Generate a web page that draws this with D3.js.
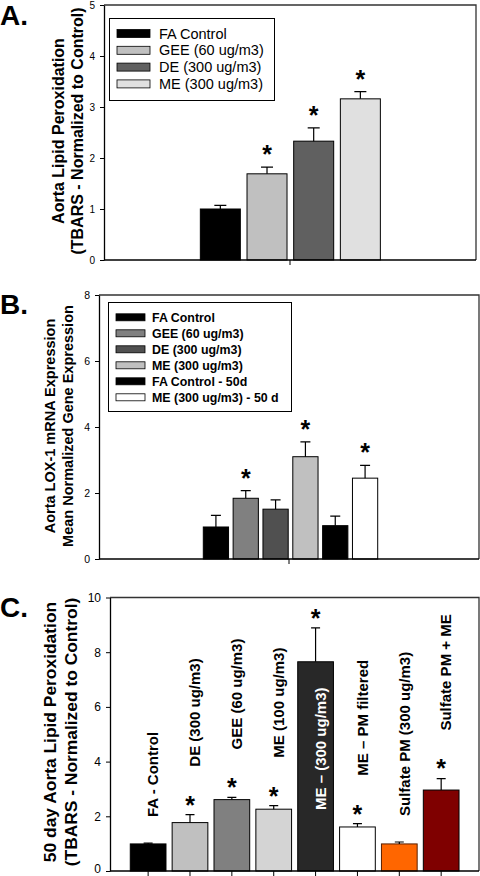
<!DOCTYPE html>
<html>
<head>
<meta charset="utf-8">
<script src="https://cdn.jsdelivr.net/npm/d3@7"></script>
<style>
  html, body { margin: 0; padding: 0; background: #fff; }
  svg { display: block; font-family: "Liberation Sans", Arial, Helvetica, sans-serif; }
</style>
</head>
<body>
<script>
// ---------------- DATA ----------------
// Panel A
const aCategories = ["FA Control", "GEE (60 ug/m3)", "DE (300 ug/m3)", "ME (300 ug/m3)"];
const aValues = [1.00, 1.69, 2.33, 3.16];
const aErrors = [0.07, 0.13, 0.26, 0.14];
const aSignificant = [false, true, true, true];
const aColors = ["#000000", "#c0c0c0", "#606060", "#e0e0e0"];
const aTicks = [0, 1, 2, 3, 4, 5];
const aYLabel = ["Aorta Lipid Peroxidation", "(TBARS - Normalized to Control)"];

// Panel B
const bCategories = ["FA Control", "GEE (60 ug/m3)", "DE (300 ug/m3)", "ME (300 ug/m3)", "FA Control - 50d", "ME (300 ug/m3) - 50 d"];
const bValues = [0.97, 1.84, 1.51, 3.10, 1.01, 2.45];
const bErrors = [0.35, 0.23, 0.28, 0.45, 0.29, 0.39];
const bSignificant = [false, true, false, true, false, true];
const bColors = ["#000000", "#808080", "#505050", "#c0c0c0", "#000000", "#ffffff"];
const bTicks = [0, 2, 4, 6, 8];
const bYLabel = ["Aorta LOX-1 mRNA Expression", "Mean Normalized Gene Expression"];

// Panel C
const cCategories = ["FA - Control", "DE (300 ug/m3)", "GEE (60 ug/m3)", "ME (100 ug/m3)", "ME \u2013 (300 ug/m3)", "ME \u2013 PM filtered", "Sulfate PM (300 ug/m3)", "Sulfate PM + ME"];
const cValues = [0.99, 1.77, 2.61, 2.26, 7.65, 1.61, 0.99, 2.96];
const cErrors = [0.03, 0.29, 0.08, 0.13, 1.24, 0.12, 0.07, 0.42];
const cSignificant = [false, true, true, true, true, true, false, true];
const cColors = ["#000000", "#c0c0c0", "#808080", "#d4d4d4", "#282828", "#ffffff", "#ff6600", "#7f0000"];
const cStrokes = ["#000000", "#000000", "#000000", "#000000", "#000000", "#000000", "#5a2000", "#000000"];
const cTicks = [0, 2, 4, 6, 8, 10];
const cYLabel = ["50 day Aorta Lipid Peroxidation", "(TBARS - Normalized to Control)"];

// ---------------- DRAW ----------------
const svg = d3.select("body").append("svg").attr("width", 480).attr("height", 876);

function panel(o) {
  const g = svg.append("g");
  const y = d3.scaleLinear().domain([0, d3.max(o.ticks)]).range([o.bottom, o.top]);
  const x = d3.scaleBand().domain(o.cats).range(o.barRange)
    .paddingInner(o.pad).paddingOuter(o.pad / 2);
  const rows = o.cats.map((c, i) => ({ c, v: o.values[i], e: o.errors[i], s: o.sig[i], col: o.colors[i], stroke: o.strokes ? o.strokes[i] : "#000", i }));

  // frame top/right
  g.append("path")
    .attr("d", `M${o.left},${o.top}H${o.right}V${o.bottom}`)
    .attr("fill", "none").attr("stroke", "#333").attr("stroke-width", 1.3);

  // bars
  g.selectAll("rect.bar").data(rows).join("rect")
    .attr("x", d => x(d.c)).attr("width", x.bandwidth())
    .attr("y", d => y(d.v)).attr("height", d => y(0) - y(d.v))
    .attr("fill", d => d.col).attr("stroke", d => d.stroke).attr("stroke-width", 1);

  // error bars
  const cap = o.cap;
  g.selectAll("path.err").data(rows).join("path")
    .attr("d", d => {
      const cx = x(d.c) + x.bandwidth() / 2;
      return `M${cx},${y(d.v)}V${y(d.v + d.e)}M${cx - cap / 2},${y(d.v + d.e)}H${cx + cap / 2}`;
    })
    .attr("fill", "none").attr("stroke", "#000").attr("stroke-width", 1.2);

  // stars
  g.selectAll("text.star").data(rows.filter(d => d.s)).join("text")
    .attr("x", d => x(d.c) + x.bandwidth() / 2)
    .attr("y", d => y(d.v + d.e) - o.starGap + 0.555 * 25)
    .attr("text-anchor", "middle").attr("font-size", 25).attr("font-weight", "bold")
    .text("*");

  // y axis
  const ya = g.append("g").attr("transform", `translate(${o.left},0)`)
    .call(d3.axisLeft(y).tickValues(o.ticks).tickSize(4).tickSizeOuter(0).tickPadding(5).tickFormat(d3.format("d")));
  ya.selectAll("text").attr("font-size", o.tickFont).attr("font-family", "Liberation Sans, Arial, sans-serif").attr("fill", "#000");
  ya.selectAll("line").attr("stroke", "#000");
  ya.select(".domain").attr("stroke", "#000").attr("stroke-width", 1.3);
  if (o.lowZeroShift) {
    ya.selectAll(".tick").filter(d => d === 0).select("text").attr("dy", "0.1em");
  }

  // x axis line
  g.append("line").attr("x1", o.left).attr("x2", o.right).attr("y1", o.bottom).attr("y2", o.bottom)
    .attr("stroke", "#000").attr("stroke-width", 1.3);
  const xt = o.tickEach ? rows.map(d => x(d.c) + x.bandwidth() / 2) : [(o.left + o.right) / 2];
  g.selectAll("line.xt").data(xt).join("line")
    .attr("x1", d => d).attr("x2", d => d).attr("y1", o.bottom).attr("y2", o.bottom + 5)
    .attr("stroke", "#000");

  // y label
  o.ylabel.forEach((t, k) => {
    g.append("text")
      .attr("transform", `translate(${o.ylabelX[k]},${o.ylabelY}) rotate(-90)`)
      .attr("text-anchor", "middle").attr("dy", "0.35em")
      .attr("font-size", o.ylabelFont).attr("font-weight", "bold")
      .text(t);
  });

  // panel letter
  g.append("text").attr("x", 0).attr("y", o.letterY)
    .attr("font-size", 28).attr("font-weight", "bold").text(o.letter);

  return { g, x, y, rows };
}

// Panel A
const A = panel({
  cats: aCategories, values: aValues, errors: aErrors, sig: aSignificant, colors: aColors,
  ticks: aTicks, left: 104, right: 476, top: 5, bottom: 260,
  barRange: [197, 383.7], pad: 0.143, cap: 12, starGap: 18, tickFont: 10,
  ylabel: aYLabel, ylabelX: [58, 77], ylabelY: 131, ylabelFont: 16,
  letter: "A.", letterY: 25, tickEach: false
});
// legend A
{
  const lg = A.g.append("g");
  lg.append("rect").attr("x", 109.5).attr("y", 18.5).attr("width", 165).attr("height", 82)
    .attr("fill", "#fff").attr("stroke", "#000").attr("stroke-width", 1);
  aCategories.forEach((c, i) => {
    const cy = 33.5 + i * 16.8;
    lg.append("rect").attr("x", 117).attr("y", cy - 4).attr("width", 33).attr("height", 8)
      .attr("fill", aColors[i]).attr("stroke", "#000").attr("stroke-width", 0.8);
    lg.append("text").attr("x", 159).attr("y", cy + 5).attr("font-size", 14.5).text(c);
  });
}

// Panel B
const B = panel({
  cats: bCategories, values: bValues, errors: bErrors, sig: bSignificant, colors: bColors,
  ticks: bTicks, left: 99, right: 479, top: 295, bottom: 559,
  barRange: [201, 380], pad: 0.154, cap: 10, starGap: 18, tickFont: 10.5,
  ylabel: bYLabel, ylabelX: [50, 68], ylabelY: 426, ylabelFont: 14.5,
  letter: "B.", letterY: 314, tickEach: false
});
{
  const lg = B.g.append("g");
  lg.append("rect").attr("x", 108.5).attr("y", 302.5).attr("width", 183).attr("height", 109)
    .attr("fill", "#fff").attr("stroke", "#000").attr("stroke-width", 1);
  bCategories.forEach((c, i) => {
    const cy = 317.3 + i * 16;
    lg.append("rect").attr("x", 116).attr("y", cy - 3.5).attr("width", 29).attr("height", 7)
      .attr("fill", bColors[i]).attr("stroke", "#000").attr("stroke-width", 0.8);
    lg.append("text").attr("x", 152).attr("y", cy + 4.5).attr("font-size", 12.4)
      .attr("font-weight", "bold").text(c);
  });
}

// Panel C
const C = panel({
  cats: cCategories, values: cValues, errors: cErrors, sig: cSignificant, colors: cColors, strokes: cStrokes,
  ticks: cTicks, left: 110, right: 479, top: 597.5, bottom: 871,
  barRange: [127.2, 462.1], pad: 0.147, cap: 9, starGap: 15, tickFont: 12,
  ylabel: cYLabel, ylabelX: [50, 71], ylabelY: 732, ylabelFont: 17.4,
  letter: "C.", letterY: 617, tickEach: true, lowZeroShift: true
});
// rotated category labels in C
C.g.selectAll("text.cat").data(C.rows).join("text")
  .attr("transform", d => {
    const cx = C.x(d.c) + C.x.bandwidth() / 2 + 5;
    const inside = d.v > 5;
    const top = d.s ? C.y(d.v + d.e) - 15 : C.y(d.v + d.e);
    const by = inside ? C.y(0) - 61 : (d.s ? top - 33 : top - 26);
    return `translate(${cx},${by}) rotate(-90)`;
  })
  .attr("dy", "0.35em").attr("text-anchor", "start")
  .attr("font-size", 15).attr("font-weight", "bold")
  .attr("fill", d => d.v > 5 ? "#fff" : "#000")
  .text(d => d.c);
</script>
</body>
</html>
